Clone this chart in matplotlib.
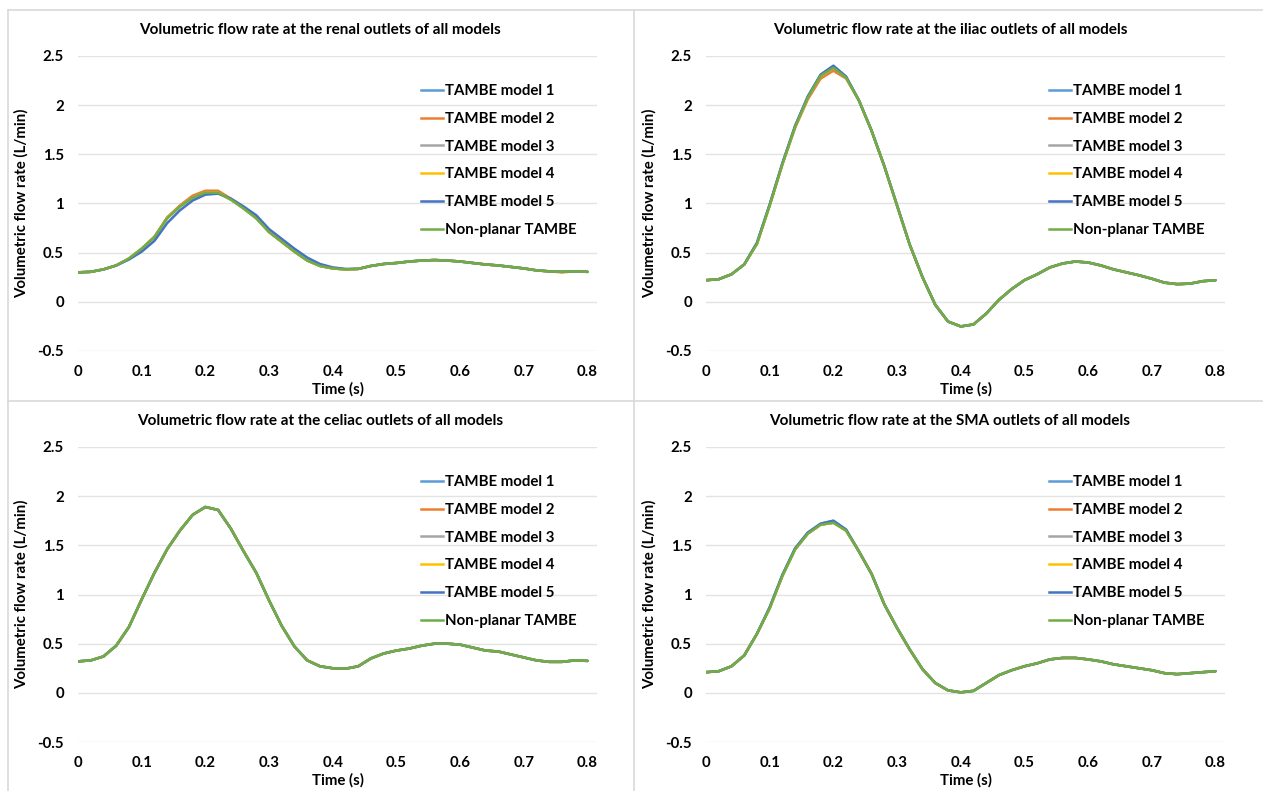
import matplotlib
matplotlib.use("Agg")
import matplotlib.pyplot as plt
from matplotlib.lines import Line2D

plt.rcParams['font.family'] = ['Lato', 'DejaVu Sans']
plt.rcParams['font.weight'] = 'bold'

# time axis (s), read every 0.02 s
time = [0.00, 0.02, 0.04, 0.06, 0.08, 0.10, 0.12, 0.14, 0.16, 0.18,
        0.20, 0.22, 0.24, 0.26, 0.28, 0.30, 0.32, 0.34, 0.36, 0.38,
        0.40, 0.42, 0.44, 0.46, 0.48, 0.50, 0.52, 0.54, 0.56, 0.58,
        0.60, 0.62, 0.64, 0.66, 0.68, 0.70, 0.72, 0.74, 0.76, 0.78, 0.80]

labels = ["TAMBE model 1", "TAMBE model 2", "TAMBE model 3",
          "TAMBE model 4", "TAMBE model 5", "Non-planar TAMBE"]
colors = ["#5B9BD5", "#ED7D31", "#A5A5A5", "#FFC000", "#4472C4", "#70AD47"]

titles = ["Volumetric flow rate at the renal outlets of all models",
          "Volumetric flow rate at the iliac outlets of all models",
          "Volumetric flow rate at the celiac outlets of all models",
          "Volumetric flow rate at the SMA outlets of all models"]

# renal outlets (L/min)
renal_base = [0.30, 0.305, 0.33, 0.37, 0.44, 0.54, 0.66, 0.85, 0.97, 1.06,
              1.11, 1.11, 1.04, 0.95, 0.85, 0.71, 0.61, 0.51, 0.42, 0.365,
              0.34, 0.33, 0.335, 0.365, 0.385, 0.395, 0.41, 0.42, 0.425, 0.42,
              0.41, 0.395, 0.38, 0.37, 0.355, 0.34, 0.32, 0.31, 0.305, 0.31, 0.305]
renal_m2 = [0.30, 0.305, 0.33, 0.37, 0.44, 0.54, 0.66, 0.86, 0.98, 1.08,
            1.13, 1.13, 1.05, 0.96, 0.86, 0.71, 0.61, 0.51, 0.42, 0.365,
            0.34, 0.33, 0.335, 0.365, 0.385, 0.395, 0.41, 0.42, 0.425, 0.42,
            0.41, 0.395, 0.38, 0.37, 0.355, 0.34, 0.32, 0.31, 0.30, 0.31, 0.305]
renal_m5 = [0.30, 0.305, 0.33, 0.37, 0.43, 0.51, 0.62, 0.80, 0.93, 1.03,
            1.09, 1.10, 1.05, 0.97, 0.88, 0.74, 0.64, 0.54, 0.45, 0.385,
            0.35, 0.335, 0.335, 0.365, 0.385, 0.395, 0.41, 0.42, 0.425, 0.42,
            0.41, 0.395, 0.38, 0.37, 0.355, 0.34, 0.32, 0.31, 0.305, 0.31, 0.305]

# iliac outlets (L/min)
iliac_base = [0.22, 0.23, 0.28, 0.38, 0.59, 0.98, 1.40, 1.78, 2.08, 2.30,
              2.38, 2.28, 2.05, 1.74, 1.38, 0.98, 0.58, 0.25, -0.03, -0.20,
              -0.25, -0.23, -0.12, 0.02, 0.13, 0.22, 0.28, 0.35, 0.39, 0.41,
              0.40, 0.37, 0.33, 0.30, 0.27, 0.235, 0.195, 0.18, 0.185, 0.21, 0.22]
iliac_m2 = [0.22, 0.23, 0.28, 0.38, 0.59, 0.98, 1.40, 1.77, 2.06, 2.27,
            2.35, 2.27, 2.05, 1.74, 1.38, 0.98, 0.58, 0.25, -0.03, -0.20,
            -0.25, -0.23, -0.12, 0.02, 0.13, 0.22, 0.28, 0.35, 0.39, 0.41,
            0.40, 0.37, 0.33, 0.30, 0.27, 0.235, 0.195, 0.18, 0.185, 0.21, 0.22]
iliac_m1 = [0.22, 0.23, 0.28, 0.38, 0.60, 0.99, 1.41, 1.79, 2.09, 2.31,
            2.40, 2.29, 2.05, 1.74, 1.38, 0.98, 0.58, 0.25, -0.03, -0.20,
            -0.25, -0.23, -0.12, 0.02, 0.13, 0.22, 0.28, 0.35, 0.39, 0.41,
            0.40, 0.37, 0.33, 0.30, 0.27, 0.235, 0.195, 0.18, 0.185, 0.21, 0.22]

# celiac outlets (L/min)
celiac_base = [0.32, 0.33, 0.37, 0.48, 0.67, 0.95, 1.22, 1.46, 1.65, 1.81,
               1.89, 1.86, 1.67, 1.44, 1.22, 0.94, 0.68, 0.47, 0.33, 0.27,
               0.25, 0.245, 0.27, 0.35, 0.40, 0.43, 0.45, 0.48, 0.50, 0.50,
               0.49, 0.46, 0.43, 0.42, 0.39, 0.36, 0.33, 0.315, 0.315, 0.33, 0.325]

# SMA outlets (L/min)
sma_base = [0.21, 0.22, 0.27, 0.38, 0.60, 0.86, 1.19, 1.46, 1.62, 1.71,
            1.73, 1.65, 1.44, 1.21, 0.90, 0.66, 0.44, 0.24, 0.10, 0.025,
            0.005, 0.02, 0.10, 0.18, 0.23, 0.27, 0.30, 0.34, 0.355, 0.355,
            0.34, 0.32, 0.29, 0.27, 0.25, 0.23, 0.20, 0.19, 0.20, 0.21, 0.22]
sma_m1 = [0.21, 0.22, 0.27, 0.38, 0.60, 0.87, 1.20, 1.47, 1.63, 1.72,
          1.75, 1.66, 1.44, 1.21, 0.90, 0.66, 0.44, 0.24, 0.10, 0.025,
          0.005, 0.02, 0.10, 0.18, 0.23, 0.27, 0.30, 0.34, 0.355, 0.355,
          0.34, 0.32, 0.29, 0.27, 0.25, 0.23, 0.20, 0.19, 0.20, 0.21, 0.22]

renal = [renal_base, renal_m2, renal_base, renal_base, renal_m5, renal_base]
iliac = [iliac_m1, iliac_m2, iliac_base, iliac_base, iliac_m1, iliac_base]
celiac = [celiac_base] * 6
sma = [sma_m1, sma_base, sma_base, sma_base, sma_m1, sma_base]
panels = [renal, iliac, celiac, sma]

W, H = 1263, 791
fig = plt.figure(figsize=(W / 100, H / 100), dpi=100)

# axes boxes in pixels: left, top, right, bottom
boxes = [(78, 56, 597, 351), (706, 56, 1225, 351),
         (78, 447, 597, 742), (706, 447, 1225, 742)]
panel_centers = [(320, 30), (950, 30), (320, 421), (950, 421)]

for i, (series, box) in enumerate(zip(panels, boxes)):
    l, t, r, b = box
    ax = fig.add_axes([l / W, 1 - b / H, (r - l) / W, (b - t) / H])
    for vals, lab, col in zip(series, labels, colors):
        ax.plot(time, vals, color=col, lw=1.8, label=lab,
                solid_capstyle='round', solid_joinstyle='round')
    ax.set_xlim(0, 0.815)
    ax.set_ylim(-0.5, 2.5)
    ax.set_xticks([0, 0.1, 0.2, 0.3, 0.4, 0.5, 0.6, 0.7, 0.8])
    ax.set_xticklabels(["0", "0.1", "0.2", "0.3", "0.4", "0.5", "0.6", "0.7", "0.8"])
    ax.set_yticks([-0.5, 0, 0.5, 1, 1.5, 2, 2.5])
    ax.set_yticklabels(["-0.5", "0", "0.5", "1", "1.5", "2", "2.5"])
    ax.tick_params(length=0, labelsize=10.8, pad=10)
    ax.grid(axis='y', color='#e3e3e3', lw=1.0)
    ax.set_axisbelow(True)
    for s in ax.spines.values():
        s.set_visible(False)
    ax.set_xlabel("Time (s)", fontsize=10.8, fontweight='bold', labelpad=2.5)
    ax.set_ylabel("Volumetric flow rate (L/min)", fontsize=10.8, fontweight='bold', labelpad=6)
    handles = [Line2D([], [], color=c, lw=1.8) for c in colors]
    ax.legend(handles, labels, loc='upper left', bbox_to_anchor=(0.66, 0.905),
              frameon=False, fontsize=10.8, handlelength=1.5, handletextpad=0.1,
              labelspacing=0.92, borderpad=0, borderaxespad=0)
    cx, cy = panel_centers[i]
    fig.text(cx / W, 1 - cy / H, titles[i], ha='center', va='center',
             fontsize=11, fontweight='bold')

# chart borders
border = '#d9d9d9'
for x0, y0, x1, y1 in [(8, 10, 1263, 10), (8, 401, 1263, 401),
                       (8, 10, 8, 791), (634, 10, 634, 791)]:
    fig.add_artist(Line2D([x0 / W, x1 / W], [1 - y0 / H, 1 - y1 / H],
                          color=border, lw=1.2))

fig.savefig("out.png", dpi=100)
